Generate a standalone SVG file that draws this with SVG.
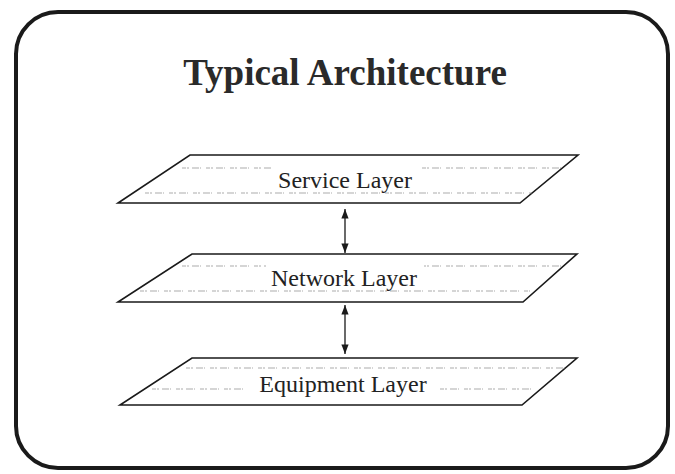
<svg xmlns="http://www.w3.org/2000/svg" width="675" height="474" viewBox="0 0 675 474">
<defs>
<style>
.frame{fill:#fff;stroke:#1a1a1a;stroke-width:4}
.layer{fill:#fff;stroke:#1a1a1a;stroke-width:1.6}
.tex{stroke:#777;stroke-width:1.2;stroke-dasharray:4 1 2 3 7 1 1 5;fill:none;opacity:0.6}
.lbl{font-family:"Liberation Serif","Times New Roman",serif;font-size:24px;fill:#222;text-anchor:middle}
.title{font-family:"Liberation Serif","Times New Roman",serif;font-size:37px;font-weight:bold;fill:#2a2a2a;text-anchor:middle}
.conn{stroke:#1a1a1a;stroke-width:1.3;fill:none;marker-start:url(#ah);marker-end:url(#ah)}
</style>
<marker id="ah" viewBox="0 0 12 10" refX="12" refY="5" markerWidth="12" markerHeight="8" orient="auto-start-reverse" markerUnits="userSpaceOnUse">
<path d="M0,0.5 L12,5 L0,9.5 z" fill="#1a1a1a"/>
</marker>
</defs>
<rect width="675" height="474" fill="#fff"/>
<rect class="frame" x="16" y="12" width="652" height="456" rx="42" ry="42"/>
<text class="title" x="345" y="85">Typical Architecture</text>
<g id="service">
<polygon class="layer" points="190,155 578,155 520,203 118,203"/>
<path class="tex" d="M182,168 L565,168 M145,193 L532,193"/>
<rect x="272" y="166" width="148" height="26" fill="#fff"/>
<text class="lbl" x="345" y="188">Service Layer</text>
</g>
<g id="network">
<polygon class="layer" points="192,254 577,254 523,302 118,302"/>
<path class="tex" d="M182,266 L565,266 M140,291 L530,291"/>
<rect x="266" y="265" width="158" height="24" fill="#fff"/>
<text class="lbl" x="344" y="286">Network Layer</text>
</g>
<g id="equipment">
<polygon class="layer" points="192,358 577,358 522,405 120,405"/>
<path class="tex" d="M186,368 L565,368 M152,389 L532,389"/>
<rect x="248" y="370" width="190" height="26" fill="#fff"/>
<text class="lbl" x="343" y="392">Equipment Layer</text>
</g>
<g id="connectors">
<line class="conn" x1="345" y1="209" x2="345" y2="253"/>
<line class="conn" x1="345" y1="305" x2="345" y2="354"/>
</g>
</svg>
